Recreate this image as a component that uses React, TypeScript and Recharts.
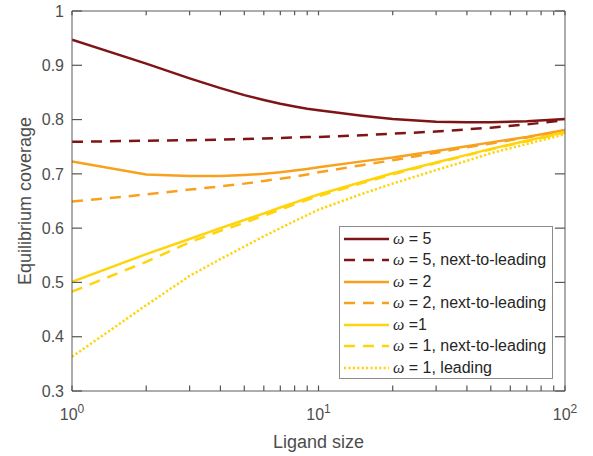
import { LineChart, Line, XAxis, YAxis, Legend, ReferenceLine } from 'recharts';

// ligand size (log axis) and equilibrium coverage
const ligandSize = [1, 2, 3, 4, 5, 6, 7, 8, 9, 10, 15, 20, 30, 40, 50, 70, 100];
const omega5 = [0.947, 0.903, 0.876, 0.858, 0.845, 0.836, 0.829, 0.824, 0.82, 0.817, 0.807, 0.801, 0.796, 0.795, 0.795, 0.797, 0.801];
const omega5Nlo = [0.759, 0.761, 0.762, 0.763, 0.764, 0.765, 0.766, 0.767, 0.768, 0.768, 0.771, 0.774, 0.778, 0.782, 0.785, 0.791, 0.799];
const omega2 = [0.723, 0.699, 0.696, 0.696, 0.698, 0.7, 0.703, 0.706, 0.709, 0.712, 0.723, 0.73, 0.742, 0.751, 0.758, 0.768, 0.781];
const omega2Nlo = [0.649, 0.662, 0.671, 0.677, 0.682, 0.687, 0.691, 0.695, 0.699, 0.703, 0.716, 0.725, 0.739, 0.749, 0.756, 0.767, 0.78];
const omega1 = [0.501, 0.552, 0.58, 0.6, 0.615, 0.627, 0.638, 0.647, 0.655, 0.662, 0.685, 0.701, 0.721, 0.735, 0.746, 0.761, 0.777];
const omega1Nlo = [0.483, 0.538, 0.574, 0.595, 0.61, 0.623, 0.634, 0.644, 0.652, 0.659, 0.683, 0.699, 0.72, 0.734, 0.745, 0.76, 0.776];
const omega1Lo = [0.363, 0.458, 0.512, 0.543, 0.566, 0.585, 0.6, 0.613, 0.624, 0.634, 0.663, 0.682, 0.707, 0.724, 0.738, 0.755, 0.773];

const xTicks = [1, 2, 3, 4, 5, 6, 7, 8, 9, 10, 20, 30, 40, 50, 60, 70, 80, 90, 100];
const yTicks = [0.3, 0.4, 0.5, 0.6, 0.7, 0.8, 0.9, 1];

const X_DOMAIN = [1, 100];
const Y_DOMAIN = [0.3, 1];
// inward tick lengths on the top/right box edges, in data units
const TOP_TICK_LEN = 0.008; // ~6px of coverage
const RIGHT_TICK_END = 91; // ~10px left of 100 on the log axis

const DARK_RED = '#7f1416';
const ORANGE = '#f8a11f';
const YELLOW = '#ffd40a';
const DASH = '11 8';
const DOT = '2.2 2.2';

const series = [
  { key: 'w5', values: omega5, color: DARK_RED, dash: undefined, label: ' = 5' },
  { key: 'w5n', values: omega5Nlo, color: DARK_RED, dash: DASH, label: ' = 5, next-to-leading' },
  { key: 'w2', values: omega2, color: ORANGE, dash: undefined, label: ' = 2' },
  { key: 'w2n', values: omega2Nlo, color: ORANGE, dash: DASH, label: ' = 2, next-to-leading' },
  { key: 'w1', values: omega1, color: YELLOW, dash: undefined, label: ' =1' },
  { key: 'w1n', values: omega1Nlo, color: YELLOW, dash: DASH, label: ' = 1, next-to-leading' },
  { key: 'w1l', values: omega1Lo, color: YELLOW, dash: DOT, label: ' = 1, leading' },
];

const data = ligandSize.map((n, i) => {
  const row: Record<string, number> = { n };
  series.forEach((s) => (row[s.key] = s.values[i]));
  return row;
});

const FONT = '"Liberation Sans", Arial, Helvetica, sans-serif';
const TEXT = '#4d4d4d';
const AXIS = '#5a5a5a';
const TICK = '#555555';

const BottomTick = ({ x, y, payload }: any) => {
  const v = payload.value;
  const exp = Math.round(Math.log10(v));
  const major = Math.abs(Math.pow(10, exp) - v) < 1e-9;
  return (
    <g>
      <line x1={x} x2={x} y1={y} y2={y - 5.5} stroke={TICK} strokeWidth={1.2} />
      {major && (
        <text x={x} y={y + 29} textAnchor="middle" fill={TEXT} fontSize={16} fontFamily={FONT}>
          10
          <tspan dy={-7} fontSize={12}>{exp}</tspan>
        </text>
      )}
    </g>
  );
};

const LeftTick = ({ x, y, payload }: any) => (
  <g>
    <line x1={x} x2={x + 10} y1={y} y2={y} stroke={TICK} strokeWidth={1.2} />
    <text x={x - 8} y={y + 5.7} textAnchor="end" fill={TEXT} fontSize={16} fontFamily={FONT}>
      {payload.value === 1 ? '1' : payload.value.toFixed(1)}
    </text>
  </g>
);

const LegendBox = () => (
  <div
    style={{
      width: 214,
      height: 153,
      border: '1px solid #8c8c8c',
      background: '#fff',
      boxSizing: 'border-box',
      paddingTop: 1,
      fontFamily: FONT,
      fontSize: 16,
      color: '#262626',
    }}
  >
    {series.map((s) => (
      <div key={s.key} style={{ display: 'flex', alignItems: 'center', height: 21.5 }}>
        <svg width={53} height={10} style={{ flex: 'none' }}>
          <line x1={4} x2={49} y1={5} y2={5} stroke={s.color} strokeWidth={2.5} strokeDasharray={s.dash} />
        </svg>
        <span style={{ whiteSpace: 'nowrap' }}>
          <span style={{ fontFamily: '"Liberation Serif", serif', fontStyle: 'italic' }}>ω</span>
          {s.label}
        </span>
      </div>
    ))}
  </div>
);

export default function App() {
  return (
    <div style={{ position: 'absolute', left: 0, top: 0, background: '#fff' }}>
      <LineChart width={593} height={456} data={data} margin={{ top: 10, right: 27, bottom: 15, left: 0 }}>
        <XAxis
          dataKey="n"
          type="number"
          scale="log"
          domain={X_DOMAIN}
          allowDataOverflow
          ticks={xTicks}
          interval={0}
          height={50}
          tickSize={0}
          tickMargin={0}
          tickLine={false}
          stroke={AXIS}
          tick={<BottomTick />}
          label={{
            content: ({ viewBox }: any) => (
              <text
                x={viewBox.x + viewBox.width / 2}
                y={viewBox.y + 57}
                textAnchor="middle"
                fill={TEXT}
                fontSize={18}
                fontFamily={FONT}
              >
                Ligand size
              </text>
            ),
          }}
        />
        <XAxis
          xAxisId="top"
          orientation="top"
          dataKey="n"
          type="number"
          scale="log"
          domain={X_DOMAIN}
          allowDataOverflow
          height={1}
          tick={false}
          tickLine={false}
          stroke={AXIS}
        />
        <YAxis
          type="number"
          domain={Y_DOMAIN}
          allowDataOverflow
          ticks={yTicks}
          interval={0}
          width={72}
          tickSize={0}
          tickMargin={0}
          tickLine={false}
          stroke={AXIS}
          tick={<LeftTick />}
          label={{
            content: ({ viewBox }: any) => {
              const cx = 25;
              const cy = viewBox.y + viewBox.height / 2;
              return (
                <text
                  x={cx}
                  y={cy}
                  transform={`rotate(-90 ${cx} ${cy})`}
                  textAnchor="middle"
                  dominantBaseline="central"
                  fill={TEXT}
                  fontSize={18}
                  fontFamily={FONT}
                >
                  Equilibrium coverage
                </text>
              );
            },
          }}
        />
        <YAxis
          yAxisId="right"
          orientation="right"
          type="number"
          domain={Y_DOMAIN}
          allowDataOverflow
          width={1}
          tick={false}
          tickLine={false}
          stroke={AXIS}
        />
        {xTicks.map((t) => (
          <ReferenceLine
            key={`tx${t}`}
            segment={[{ x: t, y: 1 }, { x: t, y: 1 - TOP_TICK_LEN }]}
            stroke={TICK}
            strokeWidth={1.2}
            ifOverflow="visible"
          />
        ))}
        {yTicks.map((t) => (
          <ReferenceLine
            key={`ty${t}`}
            segment={[{ x: 100, y: t }, { x: RIGHT_TICK_END, y: t }]}
            stroke={TICK}
            strokeWidth={1.2}
            ifOverflow="visible"
          />
        ))}
        {series.map((s) => (
          <Line
            key={s.key}
            dataKey={s.key}
            type="linear"
            stroke={s.color}
            strokeWidth={2.5}
            strokeDasharray={s.dash}
            dot={false}
            isAnimationActive={false}
          />
        ))}
        <Legend
          layout="vertical"
          align="center"
          verticalAlign="middle"
          content={<LegendBox />}
          wrapperStyle={{ position: 'absolute', left: 339, top: 226, width: 214 }}
        />
      </LineChart>
    </div>
  );
}
